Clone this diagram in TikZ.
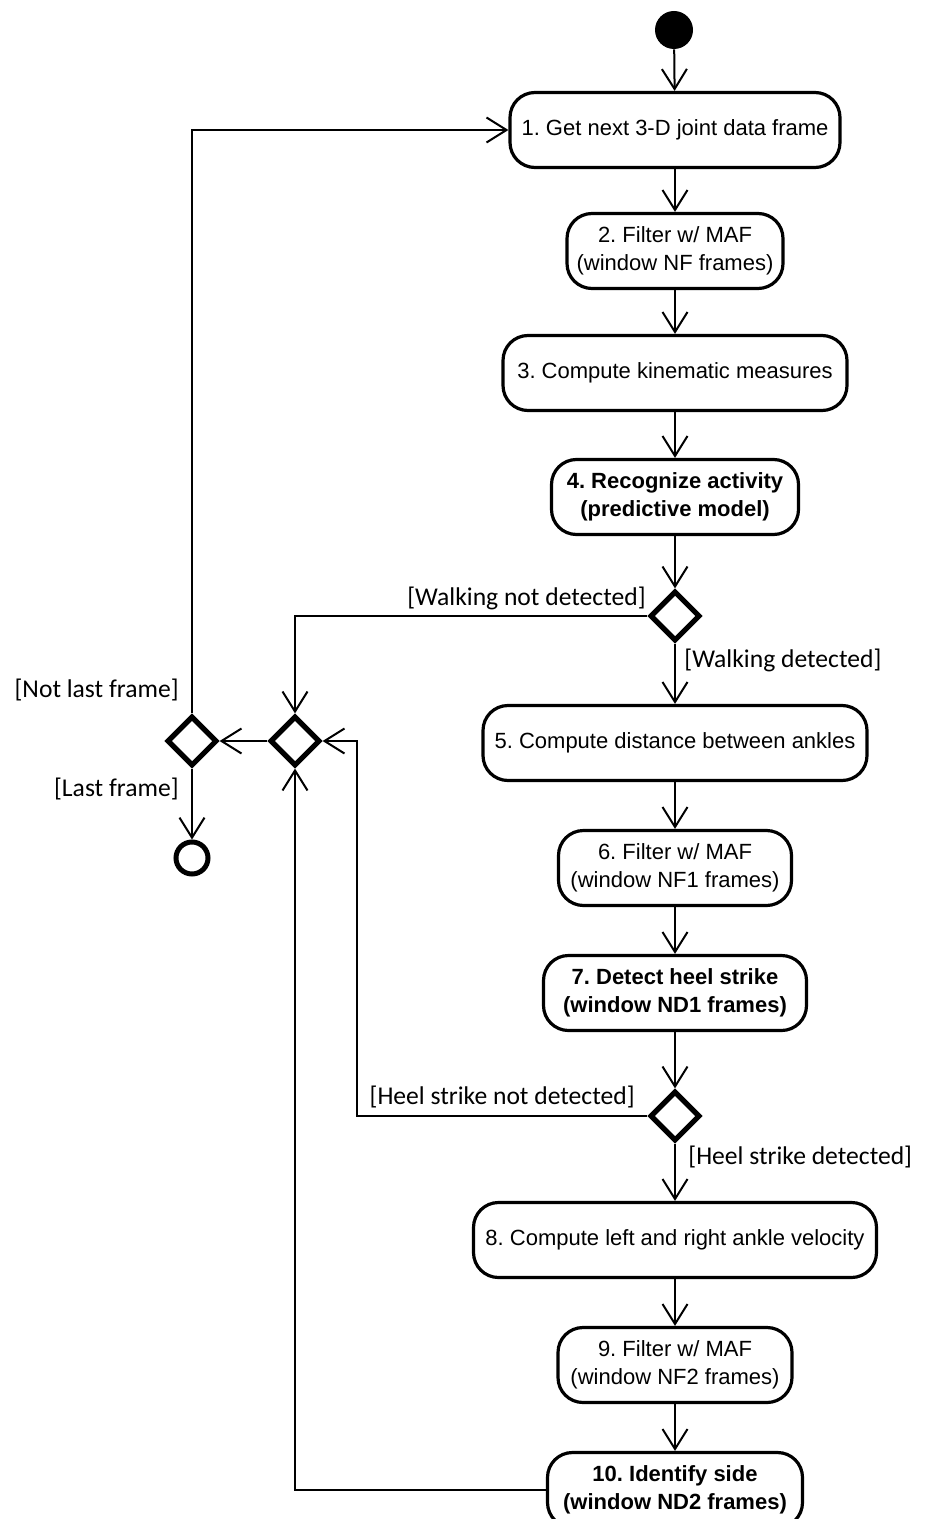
\documentclass[tikz,border=0pt]{standalone}
\usepackage{fontspec}
\setmainfont{Liberation Sans}
\newfontfamily\guardfont{Carlito}
\usetikzlibrary{shapes.geometric,arrows.meta}
\frenchspacing
\tikzset{
  act/.style={rectangle,rounded corners=12.5pt,draw,line width=1.6pt,align=center,
    minimum height=37.5pt,inner xsep=4pt,font=\fontsize{11}{14}\selectfont},
  actb/.style={act,font=\fontsize{11}{14}\selectfont\bfseries},
  choice/.style={diamond,draw,line width=2.6pt,minimum size=25pt,inner sep=0pt,aspect=1},
  guard/.style={inner sep=0pt,font=\guardfont\fontsize{12.8}{15}\selectfont},
  flow/.style={line width=1pt,-{Straight Barb[length=10pt,width=12.5pt]}},
}
\begin{document}
\begin{tikzpicture}[x=0.5pt,y=-0.5pt]
            \useasboundingbox (0,0) rectangle (926,1519);
            \begin{scope}[every node/.style={act}]
                \node (n1)[minimum width=165pt] at (675,130) {1. Get next 3-D joint data frame};
                \node (n2)[minimum width=108pt] at (675,251) {2. Filter w/ MAF\\(window NF frames)};
                \node (n3)[minimum width=172pt] at (675,373) {3. Compute kinematic measures};
                \node (n4)[actb,minimum width=123.5pt] at (675,497) {4. Recognize activity\\(predictive model)};
                \node (n5)[minimum width=192pt] at (675,743) {5. Compute distance between ankles};
                \node (n6)[minimum width=116.5pt] at (675,868) {6. Filter w/ MAF\\(window NF1 frames)};
                \node (n7)[actb,minimum width=131.5pt] at (675,993) {7. Detect heel strike\\(window ND1 frames)};
                \node (n8)[minimum width=201.5pt] at (675,1240) {8. Compute left and right ankle velocity};
                \node (n9)[minimum width=117pt] at (675,1365) {9. Filter w/ MAF\\(window NF2 frames)};
                \node (n10)[actb,minimum width=127.5pt] at (675,1490) {10. Identify side\\(window ND2 frames)};
            \end{scope}

            \begin{scope}[every node/.style={choice}]
                \node (d1) at (675,616) {};
                \node (d2) at (675,1116) {};
                \node (m) at (295,741) {};
                \node (d3) at (192,741) {};
            \end{scope}

            \node (start)[circle,fill=black,minimum size=19pt,inner sep=0pt] at (674,30) {};
            \node (fin)[circle,draw,line width=2.5pt,minimum size=16pt,inner sep=0pt] at (192,858) {};
            \coordinate (c2) at (357,1116);

            \begin{scope}[every node/.style={guard}]
                \node (g1)[anchor=east] at (646,598) {[Walking not detected]};
                \node (g2)[anchor=west] at (684,660) {[Walking detected]};
                \node (g3)[anchor=east] at (635,1097) {[Heel strike not detected]};
                \node (g4)[anchor=west] at (688,1157) {[Heel strike detected]};
                \node (g5)[anchor=east] at (179,690) {[Not last frame]};
                \node (g6)[anchor=east] at (179,789) {[Last frame]};
            \end{scope}

            \begin{scope}[every path/.style={flow}]
                \path (start) edge (n1);
                \path (n1) edge (n2);
                \path (n2) edge (n3);
                \path (n3) edge (n4);
                \path (n4) edge (d1);
                \path (d1) edge (n5);
                \path (n5) edge (n6);
                \path (n6) edge (n7);
                \path (n7) edge (d2);
                \path (d2) edge (n8);
                \path (n8) edge (n9);
                \path (n9) edge (n10);
                \draw (d1.west) -| (m.north);
                \draw (d2.west) -- (c2) |- (m.east);
                \draw (n10.west) -| (m.south);
                \draw (m.west) -- (d3.east);
                \draw (d3.north) |- (n1.west);
                \draw (d3.south) -- (fin);
            \end{scope}
\end{tikzpicture}
\end{document}
